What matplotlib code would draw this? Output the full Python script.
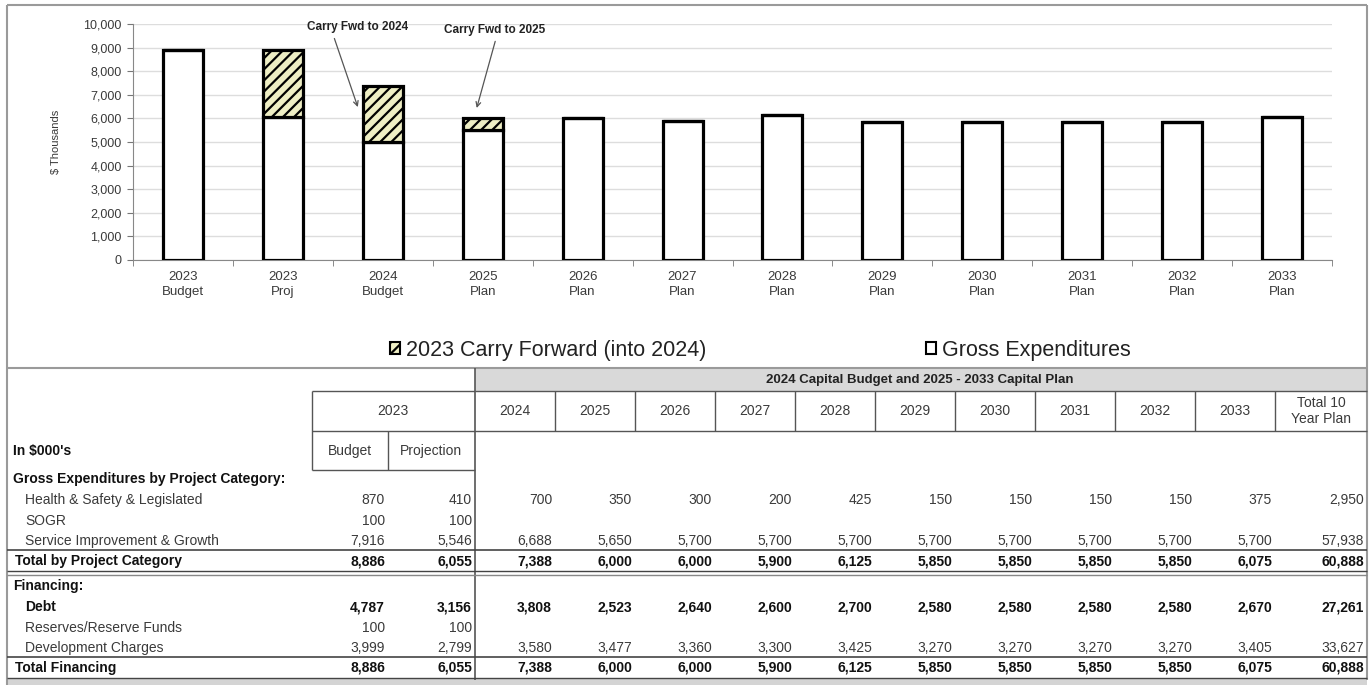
import matplotlib
matplotlib.use("Agg")
import matplotlib.pyplot as plt
from matplotlib.patches import Patch, Rectangle
import numpy as np

plt.rcParams['font.family'] = ['Liberation Sans', 'DejaVu Sans']
plt.rcParams['hatch.linewidth'] = 1.6

# ---- chart data ----
categories = ['2023\nBudget', '2023\nProj', '2024\nBudget', '2025\nPlan', '2026\nPlan', '2027\nPlan',
              '2028\nPlan', '2029\nPlan', '2030\nPlan', '2031\nPlan', '2032\nPlan', '2033\nPlan']
gross = [8886, 6055, 4988, 5500, 6000, 5900, 6125, 5850, 5850, 5850, 5850, 6075]
carry = [0, 2831, 2400, 500, 0, 0, 0, 0, 0, 0, 0, 0]
yticks = np.arange(0, 10001, 1000)

# ---- table data ----
year_cols = ['2024', '2025', '2026', '2027', '2028', '2029', '2030', '2031', '2032', '2033']
row_labels = ['Health & Safety & Legislated', 'SOGR', 'Service Improvement & Growth',
              'Total by Project Category', 'Debt', 'Reserves/Reserve Funds',
              'Development Charges', 'Total Financing']
health = [870, 410, 700, 350, 300, 200, 425, 150, 150, 150, 150, 375, 2950]
sogr = [100, 100] + [None] * 11
service = [7916, 5546, 6688, 5650, 5700, 5700, 5700, 5700, 5700, 5700, 5700, 5700, 57938]
total_cat = [8886, 6055, 7388, 6000, 6000, 5900, 6125, 5850, 5850, 5850, 5850, 6075, 60888]
debt = [4787, 3156, 3808, 2523, 2640, 2600, 2700, 2580, 2580, 2580, 2580, 2670, 27261]
reserves = [100, 100] + [None] * 11
dev = [3999, 2799, 3580, 3477, 3360, 3300, 3425, 3270, 3270, 3270, 3270, 3405, 33627]
total_fin = [8886, 6055, 7388, 6000, 6000, 5900, 6125, 5850, 5850, 5850, 5850, 6075, 60888]

W, H = 1371, 685
fig = plt.figure(figsize=(W / 100, H / 100), dpi=100)

# overlay in pixel coords for frame and table
ov = fig.add_axes([0, 0, 1, 1])
ov.set_xlim(0, W)
ov.set_ylim(H, 0)
ov.axis('off')

frame = '#9a9a9a'
line_c = '#555555'
txt = '#3a3a3a'

def hline(y, x0, x1, c=line_c, lw=1.0):
    ov.plot([x0, x1], [y, y], color=c, lw=lw, solid_capstyle='butt')

def vline(x, y0, y1, c=line_c, lw=1.0):
    ov.plot([x, x], [y0, y1], color=c, lw=lw, solid_capstyle='butt')

# outer frame
hline(5, 7, 1367, frame, 1.5)
vline(7, 5, 685, frame, 1.5)
vline(1367, 5, 680, frame, 1.5)
hline(368, 7, 1367, frame, 1.5)

# ---- bar chart ----
ax = fig.add_axes([133 / W, 1 - 260 / H, 1199 / W, 236 / H])
ax.patch.set_visible(False)
x = np.arange(len(categories))
ax.bar(x, gross, width=0.4, color='white', edgecolor='black', linewidth=2.3, zorder=3)
ax.bar(x, carry, width=0.4, bottom=gross, color='#eeeec4', edgecolor='black',
       hatch='///', linewidth=2.3, zorder=3)
ax.set_xlim(-0.5, len(categories) - 0.5)
ax.set_ylim(0, 10000)
ax.set_yticks(yticks)
ax.set_yticklabels([f'{v:,}' for v in yticks], fontsize=9, color=txt)
ax.set_xticks(x)
ax.set_xticklabels(categories, fontsize=9.5, color=txt, linespacing=1.35)
ax.set_xticks(np.arange(-0.5, len(categories)), minor=True)
ax.tick_params(axis='x', which='major', length=0, pad=8)
ax.tick_params(axis='x', which='minor', length=4, color='#777777', direction='out')
ax.tick_params(axis='y', length=4, color='#777777', pad=4)
ax.grid(axis='y', color='#dddddd', lw=1, zorder=0)
for s in ['top', 'right']:
    ax.spines[s].set_visible(False)
ax.spines['left'].set_color('#888888')
ax.spines['bottom'].set_color('#888888')
ax.set_ylabel('$ Thousands', fontsize=8, color=txt, labelpad=16)

ax.annotate('Carry Fwd to 2024', xy=(1.75, 6480), xytext=(1.75, 9870),
            ha='center', va='center', fontsize=8.5, fontweight='bold', color='#222222',
            arrowprops=dict(arrowstyle='->', color='#555555', lw=0.9,
                            shrinkA=2, shrinkB=0, relpos=(0.25, 0)), annotation_clip=False)
ax.annotate('Carry Fwd to 2025', xy=(2.94, 6440), xytext=(3.12, 9750),
            ha='center', va='center', fontsize=8.5, fontweight='bold', color='#222222',
            arrowprops=dict(arrowstyle='->', color='#555555', lw=0.9,
                            shrinkA=2, shrinkB=0, relpos=(0.52, 0)), annotation_clip=False)

handles = [Patch(facecolor='#eeeec4', edgecolor='black', hatch='///', lw=1.5),
           Patch(facecolor='white', edgecolor='black', lw=1.5)]
fig.legend(handles, ['2023 Carry Forward (into 2024)', 'Gross Expenditures'],
           loc='center', bbox_to_anchor=(760 / W, 1 - 350 / H), ncol=2, frameon=False,
           fontsize=15.5, handlelength=0.5, handleheight=0.5, handletextpad=0.25,
           columnspacing=10.2, labelcolor='#222222')

# ---- table ----
# column edges (pixel layout)
col_edges = [312, 388, 475, 555, 635, 715, 795, 875, 955, 1035, 1115, 1195, 1275, 1367]

ov.add_patch(Rectangle((475, 368), 1367 - 475, 23, facecolor='#d9d9d9', edgecolor='none'))
ov.text(920, 380, '2024 Capital Budget and 2025 - 2033 Capital Plan', ha='center', va='center',
        fontsize=9.5, fontweight='bold', color='#222222')
hline(391, 475, 1367)
hline(431, 312, 1367)
hline(391, 312, 475)
hline(470, 312, 475)
vline(312, 391, 470)
vline(388, 431, 470)
for e in col_edges[3:-1]:
    vline(e, 391, 431)
vline(475, 368, 680, line_c, 1.2)

ov.text(393, 411, '2023', ha='center', va='center', fontsize=10, color=txt)
ov.text(350, 451, 'Budget', ha='center', va='center', fontsize=10, color=txt)
ov.text(431, 451, 'Projection', ha='center', va='center', fontsize=10, color=txt)
for i, yr in enumerate(year_cols):
    ov.text((col_edges[i + 2] + col_edges[i + 3]) / 2, 411, yr, ha='center', va='center',
            fontsize=10, color=txt)
ov.text(1321, 411, 'Total 10\nYear Plan', ha='center', va='center', fontsize=10, color=txt,
        linespacing=1.15)

ov.text(13, 451, "In $000's", ha='left', va='center', fontsize=10, fontweight='bold', color='#111111')
ov.text(13, 479, 'Gross Expenditures by Project Category:', ha='left', va='center',
        fontsize=10, fontweight='bold', color='#111111')
ov.text(13, 586, 'Financing:', ha='left', va='center', fontsize=10, fontweight='bold', color='#111111')

rows = [health, sogr, service, total_cat, debt, reserves, dev, total_fin]
row_y = [500, 521, 541, 561, 607, 628, 648, 668]
bold_rows = [False, False, False, True, True, False, False, True]
label_x = [25, 25, 25, 15, 25, 25, 25, 15]
for label, vals, y, b, lx in zip(row_labels, rows, row_y, bold_rows, label_x):
    c = '#111111' if b else txt
    fw = 'bold' if b else 'normal'
    ov.text(lx, y, label, ha='left', va='center', fontsize=10, fontweight=fw, color=c)
    for j, v in enumerate(vals):
        if v is None:
            continue
        ov.text(col_edges[j + 1] - 3, y, f'{v:,}', ha='right', va='center',
                fontsize=10, fontweight=fw, color=c)

hline(550, 7, 1367, '#444444', 1.2)
hline(571, 7, 1367, '#444444', 1.0)
hline(575, 7, 1367, '#888888', 1.0)
hline(657, 7, 1367, '#444444', 1.2)
hline(678, 7, 1367, '#444444', 1.0)
ov.add_patch(Rectangle((7, 679), 1360, 6, facecolor='#d4d4d4', edgecolor='none'))

fig.savefig('out.png', dpi=100)
